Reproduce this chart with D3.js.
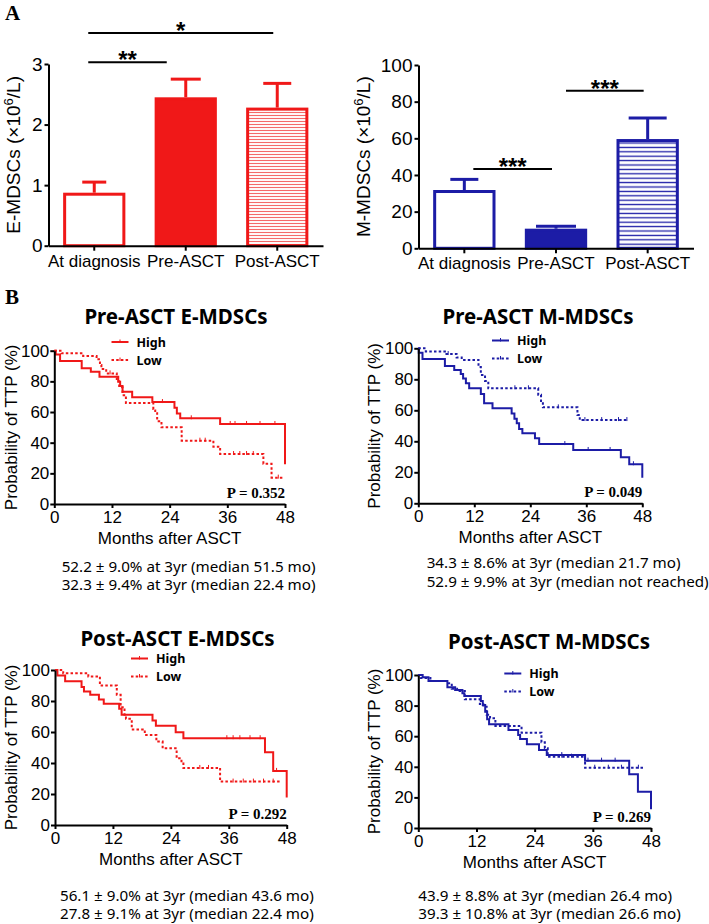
<!DOCTYPE html>
<html><head><meta charset="utf-8">
<script src="https://cdn.jsdelivr.net/npm/d3@7"></script>
<style>body{margin:0;background:#fff}svg{display:block}</style>
</head><body><svg id="c" width="709" height="924"></svg>
<script>
// ---------------- DATA ----------------
const categories = ["At diagnosis", "Pre-ASCT", "Post-ASCT"];
const eMdscMean = [0.875, 2.45, 2.28];
const eMdscErr  = [0.175, 0.30, 0.40];
const mMdscMean = [31.8, 10.7, 59.6];
const mMdscErr  = [5.8, 1.3, 11.5];
const eTicks = [0, 1, 2, 3];
const mTicks = [0, 20, 40, 60, 80, 100];
// significance: [fromCategory, toCategory, label, level]
const eSig = [["At diagnosis", "Pre-ASCT", "**", 3.03], ["At diagnosis", "Post-ASCT", "*", 3.51]];
const mSig = [["At diagnosis", "Pre-ASCT", "***", 43.3], ["Pre-ASCT", "Post-ASCT", "***", 86]];

const monthTicks = [0, 12, 24, 36, 48];
const probTicks = [0, 20, 40, 60, 80, 100];
const groupNames = ["High", "Low"];

// Kaplan-Meier steps: [month, probability %]
const preE_high = [[0,100],[0.3,97.5],[1.2,93.3],[5.7,88.5],[7.6,86.3],[9.4,83],[13.3,79.8],[13.7,77],[14.2,73.3],[16.2,69.6],[20.4,66.5],[25,62.8],[25.5,59],[26.2,55.9],[34.5,52.2],[48,26]];
const preE_low  = [[0,100],[1.5,98.3],[6.0,96.5],[8.8,94.4],[9.5,90.7],[9.8,88],[10.8,85.2],[13,80],[13.5,76.1],[14.2,71],[14.9,65.9],[20.6,62],[21,59.2],[21.4,54],[22.3,50],[26.5,41.3],[33.1,37.4],[34.5,32.6],[43.5,26.3],[45.2,17.2],[47.7,17.2]];
const preM_high = [[0,100],[0.1,97.2],[0.9,93.1],[5.7,88.6],[7.7,86],[9.1,83.4],[9.6,80.5],[10.2,77.4],[10.9,74.2],[13.4,70.5],[14.1,64.5],[15.9,61.3],[20,58],[20.6,54.5],[21.1,51.6],[21.6,48],[22.3,45.2],[25,41.9],[25.9,38.2],[33.2,34.4],[43.4,29.7],[45.2,25.2],[48,16.5]];
const preM_low  = [[0,100],[1.6,98],[5.7,96.3],[8.2,94],[9.3,92.5],[12.9,88],[13.4,82.8],[14.3,78.9],[15,74.2],[25.7,70],[26.3,66],[26.7,61.9],[34.1,57],[34.6,53.7],[44.7,53.7]];
const postE_high = [[0,100],[0.5,96.4],[2.1,92.8],[5.5,89],[6,86.1],[7.3,84],[9.1,81],[10.1,78.2],[13.3,75],[13.8,71.1],[20.2,67.4],[20.9,64.1],[25,59.8],[26.6,56],[43.5,46.9],[45.2,34.9],[48,17.8]];
const postE_low  = [[0,100],[1.7,97.9],[6.9,95.8],[9.3,90],[12.8,84],[13.6,76],[14.4,71.1],[14.7,68.5],[15.9,61.6],[18.6,58.1],[21,53.8],[22.3,49.5],[25.2,43],[26.2,40.4],[26.6,36.8],[34.2,28],[46.6,28]];
const postM_high = [[0,100],[0.9,98.5],[2.1,96],[6,92],[7.6,90.2],[9.1,88],[9.5,86.3],[12.9,83],[13.3,80.4],[13.8,76],[14.2,71],[14.6,67.8],[18.6,64],[20.6,60.8],[21,58.2],[22.4,54.7],[24.9,51],[26.5,47.7],[34.4,44],[43.5,35.1],[45.3,23.7],[48,12.2]];
const postM_low  = [[0,100],[0.5,98],[2.5,96],[6.2,94.6],[6.9,91],[8,89.5],[9.6,84.1],[12.7,81],[13.4,79.3],[14.1,74],[14.8,71.7],[15.9,66.7],[21.3,62.3],[25.4,56],[26.1,52.1],[26.7,46.6],[34.4,39.4],[46.4,39.4]];
// censored observations (months)
const preE_highCens = [22.5, 28.5, 36.6, 37.6, 40, 42.8, 45.9];
const preE_lowCens  = [11.6, 30.3, 31.4, 37.3, 38.6, 40, 41.4, 46.6];
const preM_highCens = [31.4, 36.4, 41.1, 46.1];
const preM_lowCens  = [6.4, 20.7, 23.6, 30, 35.7, 39.3, 42.9, 44.7];
const postE_highCens = [35.6, 36.9, 38.3, 40.4, 42.5, 45.9];
const postE_lowCens  = [30, 31.8, 36.9, 39, 41.1, 43.2, 45.2];
const postM_highCens = [29.6, 35, 37.8, 40.6];
const postM_lowCens  = [29.6, 31.6, 36.4, 39.2, 41.9, 45.4];

const kmTitles = ["Pre-ASCT E-MDSCs", "Pre-ASCT M-MDSCs", "Post-ASCT E-MDSCs", "Post-ASCT M-MDSCs"];
const pValues = ["P = 0.352", "P = 0.049", "P = 0.292", "P = 0.269"];
const summaries = [
  ["52.2 \u00b1 9.0% at 3yr (median 51.5 mo)", "32.3 \u00b1 9.4% at 3yr (median 22.4 mo)"],
  ["34.3 \u00b1 8.6% at 3yr (median 21.7 mo)", "52.9 \u00b1 9.9% at 3yr (median not reached)"],
  ["56.1 \u00b1 9.0% at 3yr (median 43.6 mo)", "27.8 \u00b1 9.1% at 3yr (median 22.4 mo)"],
  ["43.9 \u00b1 8.8% at 3yr (median 26.4 mo)", "39.3 \u00b1 10.8% at 3yr (median 26.6 mo)"]
];

// ---------------- DRAWING ----------------
const svg = d3.select("#c");
const RED = "#f01818", BLUE = "#1c1ca6";
const SANS = "'Liberation Sans', Arial, sans-serif";
const NOTO = "'Noto Sans', 'Open Sans', sans-serif";
const SERIF = "'Liberation Serif', 'Times New Roman', serif";
const defs = svg.append("defs");

function hatch(id, color, period, w) {
  const p = defs.append("pattern").attr("id", id).attr("patternUnits", "userSpaceOnUse")
    .attr("width", 10).attr("height", period);
  p.append("rect").attr("width", 10).attr("height", period).attr("fill", "#fff");
  p.append("line").attr("x1", 0).attr("x2", 10).attr("y1", period / 2).attr("y2", period / 2)
    .attr("stroke", color).attr("stroke-width", w);
}
hatch("hatchRed", "#f46a6a", 3, 1.1);
hatch("hatchBlue", BLUE, 4.4, 1.3);

svg.append("text").attr("x", 5).attr("y", 20).attr("font-family", SERIF).attr("font-weight", "bold")
  .attr("font-size", 21).text("A");
svg.append("text").attr("x", 5).attr("y", 304).attr("font-family", SERIF).attr("font-weight", "bold")
  .attr("font-size", 21).text("B");

function styleAxis(g, w) {
  g.select(".domain").attr("stroke", "#000").attr("stroke-width", w);
  g.selectAll(".tick line").attr("stroke", "#000").attr("stroke-width", w);
  g.selectAll(".tick text").attr("fill", "#000");
}

function barChart(o) {
  const g = svg.append("g");
  const x = d3.scaleBand().domain(categories).range([o.x0, o.x1]).paddingInner(0.32).paddingOuter(0.16);
  const y = d3.scaleLinear().domain([0, o.max]).range([o.y0, o.yTop]);
  const bw = x.bandwidth();
  const rows = categories.map((c, i) => ({ c, v: o.mean[i], e: o.err[i], fill: o.fills[i] }));
  const sw = 3;
  g.selectAll("line.err").data(rows).join("line")
    .attr("x1", d => x(d.c) + bw / 2).attr("x2", d => x(d.c) + bw / 2)
    .attr("y1", d => y(d.v)).attr("y2", d => y(d.v + d.e))
    .attr("stroke", o.color).attr("stroke-width", sw);
  g.selectAll("line.cap").data(rows).join("line")
    .attr("x1", (d, i) => x(d.c) + bw / 2 - o.caps[i] / 2).attr("x2", (d, i) => x(d.c) + bw / 2 + o.caps[i] / 2)
    .attr("y1", d => y(d.v + d.e)).attr("y2", d => y(d.v + d.e))
    .attr("stroke", o.color).attr("stroke-width", sw);
  g.selectAll("rect.bar").data(rows).join("rect")
    .attr("x", d => x(d.c) + sw / 2).attr("width", bw - sw)
    .attr("y", d => y(d.v) + sw / 2).attr("height", d => y(0) - y(d.v) - sw / 2)
    .attr("fill", d => d.fill).attr("stroke", o.color).attr("stroke-width", sw);
  const ya = g.append("g").attr("transform", `translate(${o.x0},0)`)
    .call(d3.axisLeft(y).tickValues(o.ticks).tickFormat(d3.format("d")).tickSize(4).tickPadding(2).tickSizeOuter(0));
  ya.selectAll(".tick text").attr("font-family", SANS).attr("font-size", 19);
  styleAxis(ya, 2);
  const xa = g.append("g").attr("transform", `translate(0,${o.y0})`)
    .call(d3.axisBottom(x).tickSize(5).tickPadding(4).tickSizeOuter(0));
  xa.selectAll(".tick text").attr("font-family", SANS).attr("font-size", 17);
  styleAxis(xa, 2);
  const t = g.append("text").attr("transform", `translate(${o.labelX},${(o.y0 + o.yTop) / 2}) rotate(-90)`)
    .attr("text-anchor", "middle").attr("font-family", SANS).attr("font-size", 19);
  t.append("tspan").text(o.label + " (\u00d710");
  t.append("tspan").attr("font-size", 13).attr("dy", -7).text("6");
  t.append("tspan").attr("dy", 7).text("/L)");
  o.sig.forEach((s, i) => {
    const x1 = x(s[0]) + bw / 2 + o.sigOff[i][0], x2 = x(s[1]) + bw / 2 + o.sigOff[i][1];
    g.append("line").attr("x1", x1).attr("x2", x2).attr("y1", y(s[3])).attr("y2", y(s[3]))
      .attr("stroke", "#000").attr("stroke-width", 2);
    g.append("text").attr("x", (x1 + x2) / 2).attr("y", y(s[3]) + 6).attr("text-anchor", "middle")
      .attr("font-family", SANS).attr("font-weight", "bold").attr("font-size", 24).text(s[2]);
  });
}

barChart({ x0: 48.5, x1: 323, y0: 245.7, yTop: 64, max: 3, mean: eMdscMean, err: eMdscErr, ticks: eTicks,
  color: RED, fills: ["#fff", RED, "url(#hatchRed)"], caps: [24, 30, 28], label: "E-MDSCs", labelX: 20,
  sig: eSig, sigOff: [[-6, -19], [-6, -4]] });
barChart({ x0: 418.5, x1: 693.5, y0: 248.3, yTop: 65, max: 100, mean: mMdscMean, err: mMdscErr, ticks: mTicks,
  color: BLUE, fills: ["#fff", BLUE, "url(#hatchBlue)"], caps: [28, 40, 38], label: "M-MDSCs", labelX: 370,
  sig: mSig, sigOff: [[9, -4], [10, -4]] });

function stepValue(curve, t) {
  let v = curve[0][1];
  for (const p of curve) { if (p[0] <= t) v = p[1]; }
  return v;
}

function km(o) {
  const g = svg.append("g");
  const x = d3.scaleLinear().domain([0, 48]).range([o.x0, o.x48]);
  const y = d3.scaleLinear().domain([0, 100]).range([o.y0, o.y100]);
  const line = d3.line().x(d => x(d[0])).y(d => y(d[1])).curve(d3.curveStepAfter);
  const series = [
    { data: o.high, cens: o.highCens, dash: null },
    { data: o.low, cens: o.lowCens, dash: "2.5,2.2" }
  ];
  series.forEach(s => {
    g.append("path").datum(s.data).attr("d", line).attr("fill", "none").attr("stroke", o.color)
      .attr("stroke-width", 2).attr("stroke-dasharray", s.dash);
    g.selectAll(null).data(s.cens).join("line")
      .attr("x1", d => x(d)).attr("x2", d => x(d))
      .attr("y1", d => y(stepValue(s.data, d)) - 3).attr("y2", d => y(stepValue(s.data, d)) + 1)
      .attr("stroke", o.color).attr("stroke-width", 1);
  });
  const ya = g.append("g").attr("transform", `translate(${o.x0},0)`)
    .call(d3.axisLeft(y).tickValues(probTicks).tickSize(4).tickPadding(1).tickSizeOuter(0));
  ya.selectAll(".tick text").attr("font-family", SANS).attr("font-size", 17);
  styleAxis(ya, 2);
  const xa = g.append("g").attr("transform", `translate(0,${o.y0})`)
    .call(d3.axisBottom(x).tickValues(monthTicks).tickSize(4).tickPadding(3).tickSizeOuter(0));
  xa.selectAll(".tick text").attr("font-family", SANS).attr("font-size", 17);
  styleAxis(xa, 2);
  g.append("text").attr("transform", `translate(${o.yLabelX},${(o.y0 + o.y100) / 2}) rotate(-90)`)
    .attr("text-anchor", "middle").attr("font-family", SANS).attr("font-size", 17).text("Probability of TTP (%)");
  g.append("text").attr("x", (o.x0 + o.x48) / 2).attr("y", o.y0 + 40).attr("text-anchor", "middle")
    .attr("font-family", SANS).attr("font-size", 17).text("Months after ASCT");
  g.append("text").attr("x", o.titleX).attr("y", o.titleY).attr("text-anchor", "middle")
    .attr("font-family", NOTO).attr("font-weight", "bold").attr("font-size", 20.5).text(o.title);
  groupNames.forEach((name, i) => {
    const ly = o.legY + i * 18;
    g.append("line").attr("x1", o.legX).attr("x2", o.legX + 17).attr("y1", ly).attr("y2", ly)
      .attr("stroke", o.color).attr("stroke-width", 2).attr("stroke-dasharray", i ? "2.5,2.2" : null);
    g.append("line").attr("x1", o.legX + 8.5).attr("x2", o.legX + 8.5).attr("y1", ly - 2.5).attr("y2", ly + 1)
      .attr("stroke", o.color).attr("stroke-width", 1);
    g.append("text").attr("x", o.legX + 25).attr("y", ly + 4.5).attr("font-family", NOTO)
      .attr("font-weight", "bold").attr("font-size", 12.5).text(name);
  });
  g.append("text").attr("x", o.x48).attr("y", o.y0 - 6).attr("text-anchor", "end")
    .attr("font-family", SERIF).attr("font-weight", "bold").attr("font-size", 15).text(o.p);
  o.summary.forEach((s, i) => {
    g.append("text").attr("x", o.sumX).attr("y", o.sumY + i * 18.3).attr("font-family", NOTO)
      .attr("font-size", 15.2).text(s);
  });
}

km({ x0: 54.3, x48: 285, y0: 504, y100: 350.7, color: RED, high: preE_high, low: preE_low,
  highCens: preE_highCens, lowCens: preE_lowCens, title: kmTitles[0], titleX: 176, titleY: 324,
  legX: 111.5, legY: 342, p: pValues[0], yLabelX: 17, summary: summaries[0], sumX: 61.7, sumY: 571.7 });
km({ x0: 418.3, x48: 642.3, y0: 503.3, y100: 348.3, color: BLUE, high: preM_high, low: preM_low,
  highCens: preM_highCens, lowCens: preM_lowCens, title: kmTitles[1], titleX: 538, titleY: 324,
  legX: 492, legY: 340.5, p: pValues[1], yLabelX: 380, summary: summaries[1], sumX: 426.7, sumY: 568.3 });
km({ x0: 55, x48: 286.7, y0: 825, y100: 670, color: RED, high: postE_high, low: postE_low,
  highCens: postE_highCens, lowCens: postE_lowCens, title: kmTitles[2], titleX: 177.5, titleY: 645.5,
  legX: 131, legY: 658.5, p: pValues[2], yLabelX: 17, summary: summaries[2], sumX: 60, sumY: 900.7 });
km({ x0: 418.3, x48: 651, y0: 828, y100: 675, color: BLUE, high: postM_high, low: postM_low,
  highCens: postM_highCens, lowCens: postM_lowCens, title: kmTitles[3], titleX: 549, titleY: 649,
  legX: 504.3, legY: 673.5, p: pValues[3], yLabelX: 380, summary: summaries[3], sumX: 418.3, sumY: 900.7 });
</script>
</body></html>
